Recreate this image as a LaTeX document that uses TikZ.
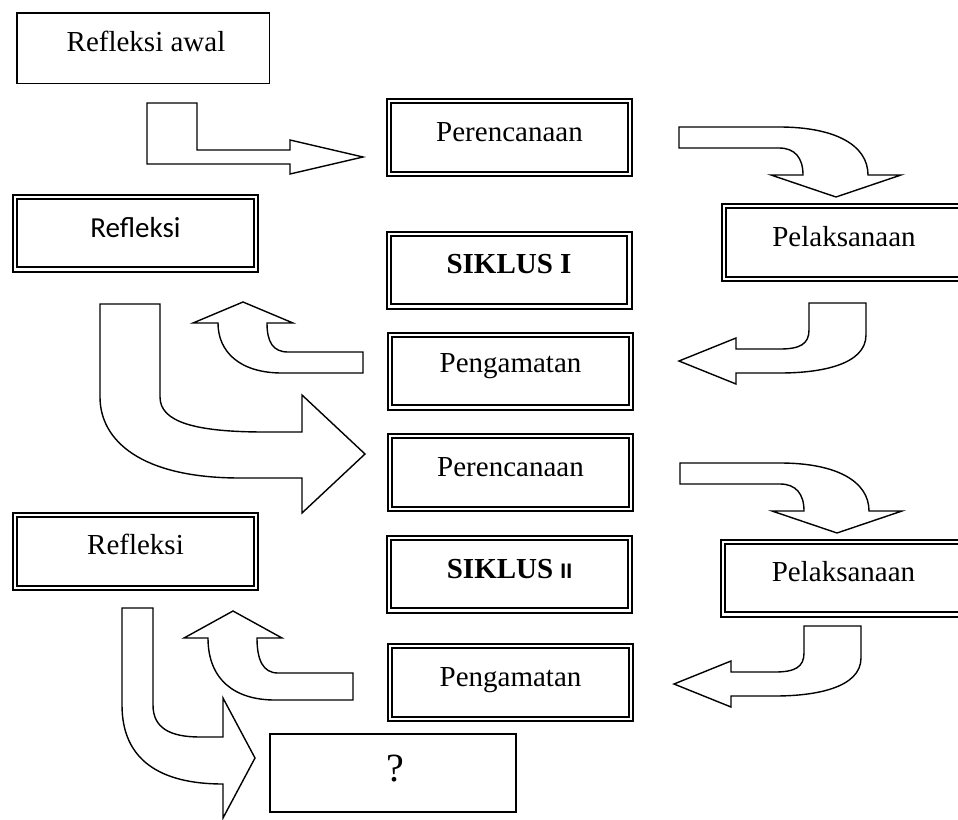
\documentclass[tikz,border=0pt]{standalone}
\usepackage{fontspec}
\setmainfont{Liberation Serif}
\newfontfamily\carl{Carlito}
\newfontfamily\arialf{Liberation Sans}
\begin{document}
\begin{tikzpicture}[x=1pt,y=-1pt,
  dbox/.style={draw, double, line width=2pt, double distance=2.2pt,
    minimum width=240.8pt, minimum height=72.8pt, inner sep=0pt},
  sbox/.style={draw, line width=1.5pt, inner sep=0pt},
  barrow/.style={draw, fill=white, line width=1.4pt, line join=miter, miter limit=10},
  lbl/.style={anchor=base, inner sep=0pt, font=\fontsize{29}{34}\selectfont}]
\clip (0,0) rectangle (958,819);
\fill[white] (0,0) rectangle (958,819);

% ---------- boxes ----------
\node[sbox, minimum width=252.5pt, minimum height=70.5pt] (ra) at (143,48) {};
\node[dbox] (p1) at (509.5,137.5) {};
\node[dbox] (r1) at (135.5,233) {};
\node[dbox] (s1) at (509,270) {};
\node[dbox] (l1) at (844,242.5) {};
\node[dbox] (g1) at (510.5,371) {};
\node[dbox] (p2) at (510.5,472.5) {};
\node[dbox] (r2) at (135.5,551.5) {};
\node[dbox] (s2) at (509.5,574) {};
\node[dbox] (l2) at (843.5,578) {};
\node[dbox] (g2) at (510.5,682.5) {};
\node[sbox, line width=1.8pt, minimum width=246pt, minimum height=78pt] (q) at (393,773) {};

% ---------- texts ----------
\node[lbl] (tra) at ([xshift=3pt,yshift=-39.5pt]ra.north) {Refleksi awal};
\node[lbl] (tp1) at ([yshift=-41pt]p1.north) {Perencanaan};
\node[lbl, font=\carl\fontsize{29}{34}\selectfont] (tr1) at ([yshift=-42pt]r1.north) {Refleksi};
\node[lbl, font=\bfseries\fontsize{29}{34}\selectfont] (ts1) at ([yshift=-41pt]s1.north) {SIKLUS I};
\node[lbl] (tl1) at ([yshift=-41pt]l1.north) {Pelaksanaan};
\node[lbl] (tg1) at ([yshift=-39pt]g1.north) {Pengamatan};
\node[lbl] (tp2) at ([yshift=-41pt]p2.north) {Perencanaan};
\node[lbl] (tr2) at ([yshift=-40pt]r2.north) {Refleksi};
\node[lbl, font=\bfseries\fontsize{29}{34}\selectfont] (ts2) at ([yshift=-42pt]s2.north) {SIKLUS {\arialf\fontsize{21}{24}\selectfont II}};
\node[lbl] (tl2) at ([yshift=-41pt]l2.north) {Pelaksanaan};
\node[lbl] (tg2) at ([yshift=-41pt]g2.north) {Pengamatan};
\node[lbl, font=\fontsize{40}{44}\selectfont] (tq) at ([xshift=2pt,yshift=-48pt]q.north) {?};

% ---------- block arrows ----------
% A1: Refleksi awal -> Perencanaan
\draw[barrow] (147,103) -- (197,103) -- (197,150) -- (290,150) -- (290,140) -- (363,157)
  -- (290,174) -- (290,164) -- (147,164) -- cycle;
% A2: Perencanaan -> Pelaksanaan (cycle I)
\draw[barrow] (679,127) -- (779,127) .. controls (835,127) and (868,145) .. (868,175)
  -- (901,175) -- (836,197) -- (771,175) -- (803,175)
  .. controls (803,158) and (795,148) .. (779,148) -- (679,148) -- cycle;
% A3: Pelaksanaan -> Pengamatan (cycle I)
\draw[barrow] (866,303) -- (866,335) .. controls (866,365) and (820,373) .. (780,373)
  -- (736,373) -- (736,384) -- (679,361) -- (736,338) -- (736,349) -- (780,349)
  .. controls (800,349) and (809,344) .. (809,330) -- (809,303) -- cycle;
% A4: Pengamatan -> Refleksi (cycle I)
\draw[barrow] (363,352) -- (363,373) -- (282,373) .. controls (240,373) and (218,352) .. (218,323)
  -- (193,323) -- (243,302) -- (293,323) -- (267,323)
  .. controls (267,342) and (273,352) .. (288,352) -- cycle;
% A5: Refleksi -> Perencanaan (cycle II)
\draw[barrow] (100,304) -- (160,304) -- (160,397) .. controls (160,422) and (195,432) .. (265,432)
  -- (302,432) -- (302,395) -- (365,454) -- (302,513) -- (302,478) -- (240,478)
  .. controls (140,478) and (100,440) .. (100,397) -- cycle;
% A6: Perencanaan -> Pelaksanaan (cycle II)
\begin{scope}[shift={(1,336)}]
\draw[barrow] (679,127) -- (779,127) .. controls (835,127) and (868,145) .. (868,175)
  -- (901,175) -- (836,197) -- (771,175) -- (803,175)
  .. controls (803,158) and (795,148) .. (779,148) -- (679,148) -- cycle;
\end{scope}
% A7: Pelaksanaan -> Pengamatan (cycle II)
\begin{scope}[shift={(-5,323)}]
\draw[barrow] (866,303) -- (866,335) .. controls (866,365) and (820,373) .. (780,373)
  -- (736,373) -- (736,384) -- (679,361) -- (736,338) -- (736,349) -- (780,349)
  .. controls (800,349) and (809,344) .. (809,330) -- (809,303) -- cycle;
\end{scope}
% A8: Pengamatan -> Refleksi (cycle II)
\draw[barrow] (353,673) -- (353,700) -- (275,700) .. controls (235,700) and (208,680) .. (208,638)
  -- (184,638) -- (233,611) -- (282,638) -- (257,638)
  .. controls (257,660) and (263,673) .. (278,673) -- cycle;
% A9: Refleksi -> ?
\draw[barrow] (122,608) -- (153,608) -- (153,705) .. controls (153,728) and (170,737) .. (200,737)
  -- (223,737) -- (223,698) -- (255,758) -- (223,818) -- (223,784)
  .. controls (160,784) and (122,760) .. (122,705) -- cycle;
\end{tikzpicture}
\end{document}
